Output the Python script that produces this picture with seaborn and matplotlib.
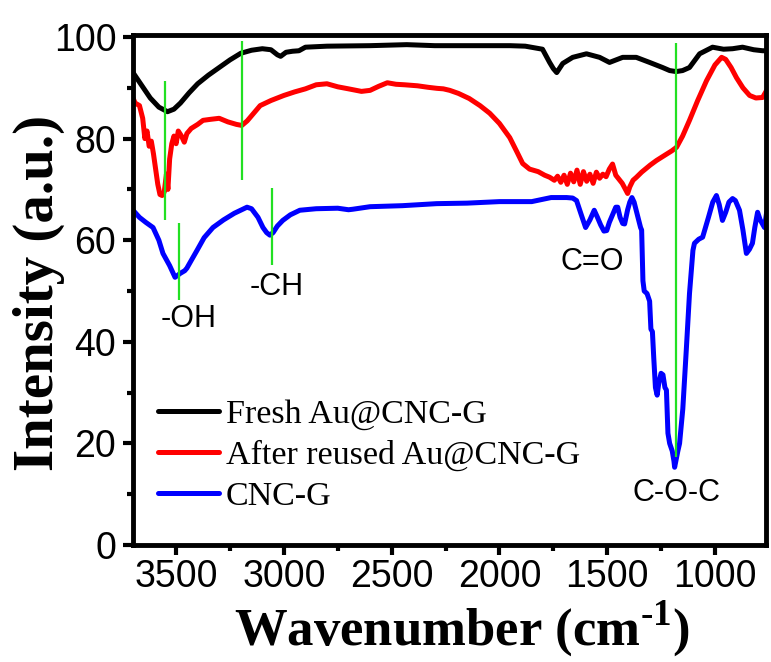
import matplotlib
matplotlib.use('Agg')
import matplotlib.pyplot as plt
from matplotlib.ticker import MultipleLocator
import numpy as np
import pandas as pd
import seaborn as sns

# FTIR spectra
fresh_wn = [3700, 3660, 3620, 3580, 3540, 3510, 3480, 3440, 3400, 3350, 3300, 3250, 3200, 3150,
            3100, 3060, 3030, 3015, 2990, 2960, 2930, 2900, 2800, 2600, 2430, 2300, 2100, 1950,
            1880, 1800, 1767, 1750, 1734, 1706, 1660, 1596, 1535, 1489, 1428, 1365, 1303, 1243,
            1210, 1180, 1150, 1118, 1071, 1011, 960, 918, 872, 820, 779, 760]
fresh_int = [93.0, 90.5, 88.0, 86.2, 85.3, 85.8, 87.0, 89.0, 90.8, 92.5, 94.0, 95.5, 96.8, 97.4,
             97.7, 97.5, 96.5, 96.2, 97.0, 97.2, 97.3, 98.0, 98.2, 98.3, 98.5, 98.3, 98.3, 98.3,
             98.2, 97.6, 95.0, 93.8, 93.0, 94.8, 96.0, 96.7, 96.0, 95.0, 96.0, 96.0, 95.0, 94.0,
             93.4, 93.2, 93.4, 94.0, 96.7, 98.0, 97.6, 97.7, 98.0, 97.5, 97.3, 97.3]

reused_wn = [3700, 3690, 3670, 3655, 3645, 3635, 3625, 3615, 3605, 3595, 3585, 3575, 3565, 3555,
             3545, 3538, 3530, 3520, 3510, 3500, 3490, 3475, 3462, 3450, 3430, 3400, 3375, 3340,
             3300, 3260, 3220, 3195, 3170, 3140, 3110, 3060, 3000, 2950, 2900, 2850, 2800, 2750,
             2700, 2640, 2600, 2560, 2520, 2480, 2440, 2380, 2330, 2290, 2260, 2230, 2190, 2140,
             2090, 2045, 2000, 1952, 1920, 1892, 1860, 1820, 1790, 1767, 1745, 1730, 1715, 1700,
             1685, 1670, 1655, 1640, 1625, 1610, 1595, 1580, 1565, 1550, 1535, 1520, 1505, 1490,
             1475, 1460, 1445, 1430, 1415, 1405, 1395, 1380, 1364, 1340, 1300, 1271, 1230, 1200,
             1178, 1150, 1118, 1080, 1039, 1000, 969, 950, 925, 900, 870, 839, 810, 779, 760]
reused_int = [88.0, 87.0, 86.5, 84.0, 80.0, 81.5, 78.5, 79.5, 77.0, 74.0, 71.0, 69.0, 68.8, 69.5,
              73.0, 70.0, 76.0, 79.0, 80.5, 79.0, 81.5, 80.5, 79.3, 81.0, 82.0, 82.8, 83.6, 83.8,
              84.0, 83.3, 82.8, 82.6, 83.5, 85.0, 86.5, 87.5, 88.5, 89.2, 89.8, 90.6, 90.8, 90.2,
              89.8, 89.3, 89.5, 90.3, 91.0, 90.7, 90.6, 90.4, 90.1, 89.9, 89.8, 89.5, 88.9, 87.9,
              86.5, 85.0, 83.0, 80.2, 77.5, 75.1, 74.0, 73.5, 72.8, 72.4, 71.8, 72.6, 71.4, 72.8,
              71.0, 73.2, 71.5, 73.8, 71.0, 73.5, 71.6, 73.0, 71.2, 73.4, 72.2, 73.0, 72.5, 74.0,
              75.0, 72.8, 72.0, 71.2, 70.0, 69.2, 70.5, 71.8, 72.4, 73.4, 74.8, 75.7, 76.8, 77.6,
              78.3, 80.5, 83.6, 87.5, 91.4, 94.5, 96.0, 95.6, 94.0, 92.0, 90.0, 88.5, 88.0, 88.1, 89.5]

cnc_wn = [3700, 3670, 3640, 3607, 3580, 3561, 3530, 3505, 3480, 3460, 3450, 3430, 3403, 3370,
          3329, 3280, 3230, 3171, 3150, 3120, 3097, 3080, 3065, 3050, 3030, 3005, 2970, 2926,
          2850, 2750, 2700, 2680, 2600, 2450, 2291, 2150, 2000, 1850, 1760, 1688, 1660, 1642,
          1620, 1600, 1580, 1560, 1545, 1530, 1515, 1502, 1490, 1475, 1460, 1451, 1440, 1428,
          1419, 1405, 1395, 1385, 1375, 1360, 1345, 1340, 1334, 1328, 1315, 1303, 1297, 1290,
          1284, 1276, 1268, 1260, 1250, 1241, 1232, 1225, 1218, 1210, 1198, 1190, 1187, 1180,
          1172, 1164, 1149, 1133, 1118, 1102, 1095, 1075, 1057, 1030, 1010, 993, 980, 965,
          950, 935, 918, 905, 886, 870, 854, 840, 826, 815, 802, 790, 770, 760]
cnc_int = [65.9, 64.5, 63.5, 62.5, 60.0, 57.4, 55.0, 52.7, 53.5, 54.0, 54.5, 56.0, 58.0, 60.5,
           62.5, 64.0, 65.3, 66.5, 66.2, 64.5, 62.5, 61.5, 61.0, 61.5, 62.8, 63.9, 65.0, 65.9,
           66.2, 66.3, 66.0, 66.1, 66.6, 66.8, 67.2, 67.3, 67.6, 67.6, 68.4, 68.4, 68.3, 67.8,
           65.0, 62.5, 64.0, 65.9, 64.5, 63.0, 61.8, 61.9, 63.5, 65.0, 66.5, 66.5, 64.5, 63.3,
           63.2, 66.0, 67.5, 68.4, 67.5, 65.0, 62.5, 62.0, 52.0, 50.0, 49.5, 48.0, 42.5, 42.0,
           37.0, 31.0, 29.5, 32.0, 33.8, 33.5, 31.0, 30.5, 22.0, 20.0, 18.5, 16.5, 15.3, 16.8,
           18.5, 20.0, 26.8, 38.3, 49.5, 58.0, 59.4, 60.2, 60.6, 64.5, 67.5, 68.8, 67.0, 63.9,
           65.5, 67.5, 68.2, 67.8, 65.9, 62.0, 57.4, 58.2, 59.4, 62.5, 65.5, 64.0, 62.5, 65.5]

series_names = ['Fresh Au@CNC-G', 'After reused Au@CNC-G', 'CNC-G']
series_colors = ['black', 'red', 'blue']

# green band markers
band_wn = [3552, 3195, 3487, 3056, 1179]
band_lo = [63.9, 71.8, 48.2, 55.1, 17.3]
band_hi = [91.4, 99.3, 63.3, 70.2, 98.9]

label_text = ['-OH', '-CH', 'C=O', 'C-O-C']
label_wn = [3443, 3034, 1567, 1178]
label_y = [44.4, 50.7, 55.7, 10.2]

sns.set_theme(style='ticks')
plt.rcParams['font.family'] = ['Liberation Sans', 'DejaVu Sans']
plt.rcParams['mathtext.fontset'] = 'custom'
plt.rcParams['mathtext.bf'] = 'Liberation Serif:bold'
plt.rcParams['mathtext.rm'] = 'Liberation Serif:bold'
for k in ['text.color', 'axes.labelcolor', 'xtick.color', 'ytick.color', 'axes.edgecolor']:
    plt.rcParams[k] = 'black'

df = pd.concat([
    pd.DataFrame({'wn': fresh_wn, 'val': fresh_int, 'sample': series_names[0]}),
    pd.DataFrame({'wn': reused_wn, 'val': reused_int, 'sample': series_names[1]}),
    pd.DataFrame({'wn': cnc_wn, 'val': cnc_int, 'sample': series_names[2]}),
])

fig = plt.figure(figsize=(7.71, 6.62), dpi=100)
ax = fig.add_axes([133 / 771, 117 / 662, 633 / 771, 510 / 662])

sns.lineplot(data=df, x='wn', y='val', hue='sample', hue_order=series_names,
             palette=series_colors, estimator=None, sort=False, lw=3.6, ax=ax)

ax.vlines(band_wn, band_lo, band_hi, colors='#22e022', lw=1.6, zorder=5)
for t, x, y in zip(label_text, label_wn, label_y):
    ax.text(x, y, t, ha='center', va='center', fontsize=22, family='Liberation Sans')

ax.set_xlim(3700, 763)
ax.set_ylim(0, 100.4)
ax.xaxis.set_major_locator(MultipleLocator(500))
ax.xaxis.set_minor_locator(MultipleLocator(250))
ax.yaxis.set_major_locator(MultipleLocator(20))
ax.yaxis.set_minor_locator(MultipleLocator(10))

for s in ax.spines.values():
    s.set_linewidth(3.5)
    s.set_visible(True)
ax.tick_params(which='major', direction='out', length=7, width=3, labelsize=27, color='black')
ax.tick_params(which='minor', direction='out', length=4, width=3, color='black')
ax.tick_params(axis='x', which='major', pad=3)
ax.tick_params(axis='y', which='major', pad=5)

ax.set_xlabel('Wavenumber (cm$^{\\mathbf{\u2010}\\mathbf{1}}$)', family='Liberation Serif',
              fontweight='bold', fontsize=38)
ax.set_ylabel('Intensity (a.u.)', family='Liberation Serif', fontweight='bold', fontsize=41)
ax.xaxis.set_label_coords(0.519, -0.105)
ax.yaxis.set_label_coords(-0.107, 0.495)

ax.legend(loc='upper left', bbox_to_anchor=(0.0395, 0.287), frameon=False,
          prop={'family': 'Liberation Serif', 'size': 24.5}, handlelength=1.8,
          handletextpad=0.2, labelspacing=0.3, borderpad=0, borderaxespad=0)

fig.savefig('out.png', dpi=100)
